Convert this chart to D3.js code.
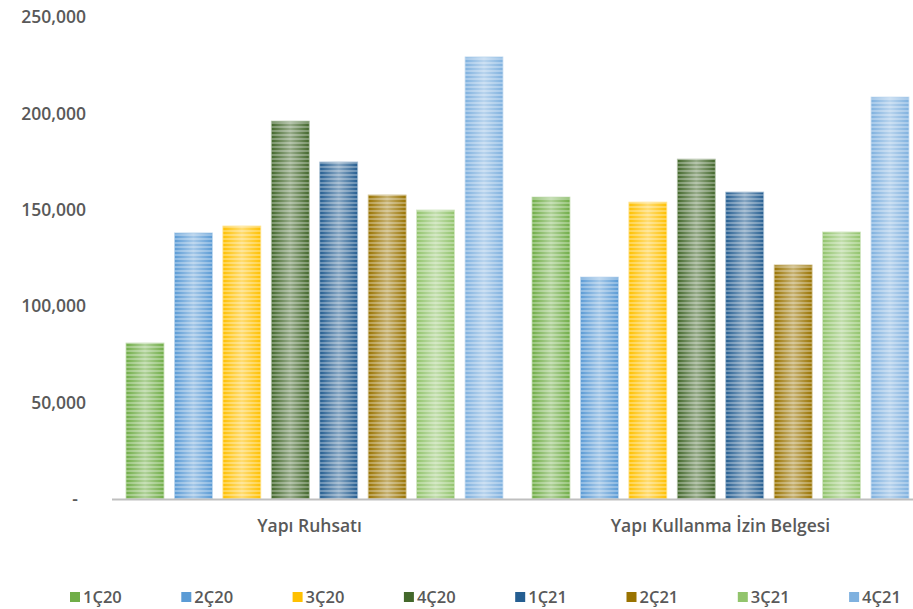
<!DOCTYPE html>
<meta charset="UTF-8">
<style>
  body { margin: 0; background-color: #fff; }
  svg { display: block; }
  svg text { fill: #595959; font-weight: 600; font-family: "Open Sans", sans-serif; }
</style>
<svg xmlns="http://www.w3.org/2000/svg"></svg>
<script src="https://d3js.org/d3.v7.min.js"></script>
<script>
  const WIDTH = 913, HEIGHT = 609;

  const categories = ['Yapı Ruhsatı', 'Yapı Kullanma İzin Belgesi'];
  const seriesNames = ['1Ç20', '2Ç20', '3Ç20', '4Ç20', '1Ç21', '2Ç21', '3Ç21', '4Ç21'];
  const seriesColors = ['#70ad47', '#5b9bd5', '#ffc000', '#43682b',
                        '#255e91', '#997300', '#92c46c', '#7fb1df'];
  // one array per category, one value per series
  const ruhsatValues = [80900, 138000, 141600, 196000, 174800, 157700, 149900, 229300];
  const iskanValues = [156600, 115100, 154000, 176300, 159200, 121400, 138500, 208500];
  const yTicks = [0, 50000, 100000, 150000, 200000, 250000];

  const rows = [ruhsatValues, iskanValues];

  const svg = d3.select('svg')
    .attr('width', WIDTH)
    .attr('height', HEIGHT);

  const x0 = d3.scaleBand()
    .domain(categories)
    .range([111.5, 923.5]);

  const x1 = d3.scaleBand()
    .domain(seriesNames)
    .range([14.5, x0.bandwidth() - 14.5])
    .paddingInner(0.216);

  const y = d3.scaleLinear()
    .domain([0, 250000])
    .range([499, 17]);

  // striped fills
  const defs = svg.append('defs');
  seriesColors.forEach((color, i) => {
    const p = defs.append('pattern')
      .attr('id', `stripe-${i}`)
      .attr('patternUnits', 'userSpaceOnUse')
      .attr('width', 8)
      .attr('height', 4);
    p.append('rect').attr('width', 8).attr('height', 4).attr('fill', color);
    p.append('rect').attr('y', 2).attr('width', 8).attr('height', 2)
      .attr('fill', d3.interpolateRgb(color, '#fff')(0.3));
  });
  const sheen = defs.append('linearGradient')
    .attr('id', 'sheen')
    .attr('x1', 0).attr('x2', 1).attr('y1', 0).attr('y2', 0);
  [[0, 0], [0.5, 0.45], [1, 0]].forEach(([o, a]) => {
    sheen.append('stop').attr('offset', o)
      .attr('stop-color', '#fff').attr('stop-opacity', a);
  });

  // y axis labels
  svg.append('g')
    .attr('transform', 'translate(86,0)')
    .call(d3.axisLeft(y).tickValues(yTicks).tickSize(0).tickPadding(0)
      .tickFormat(d => d === 0 ? '-' : d3.format(',')(d)))
    .attr('font-family', null)
    .call(g => g.select('.domain').remove())
    .call(g => g.selectAll('text')
      .attr('font-size', 17.5)
      .attr('dx', d => d === 0 ? -8 : 0));

  // bars
  const groups = svg.append('g').selectAll('g')
    .data(categories)
    .join('g')
      .attr('transform', d => `translate(${x0(d)},0)`);

  const bars = groups.selectAll('g')
    .data((c, ci) => rows[ci].map((v, i) => ({ name: seriesNames[i], i, v })))
    .join('g');

  bars.append('rect')
    .attr('x', d => x1(d.name))
    .attr('y', d => y(d.v))
    .attr('width', x1.bandwidth())
    .attr('height', d => y(0) - y(d.v))
    .attr('fill', d => `url(#stripe-${d.i})`)
    .attr('stroke', d => d3.interpolateRgb(seriesColors[d.i], '#fff')(0.6))
    .attr('stroke-width', 0.8);

  bars.append('rect')
    .attr('x', d => x1(d.name))
    .attr('y', d => y(d.v))
    .attr('width', x1.bandwidth())
    .attr('height', d => y(0) - y(d.v))
    .attr('fill', 'url(#sheen)');

  // category axis
  svg.append('g')
    .attr('transform', `translate(0,${y(0)})`)
    .call(d3.axisBottom(x0).tickSize(0).tickPadding(21))
    .attr('font-family', null)
    .call(g => g.select('.domain').attr('stroke', '#bfbfbf').attr('stroke-width', 2))
    .call(g => g.selectAll('text')
      .attr('font-size', 17.5)
      .attr('dx', (d, i) => i === 0 ? -5 : 0));

  // legend
  const legend = svg.append('g')
    .selectAll('g')
    .data(seriesNames)
    .join('g')
      .attr('transform', (d, i) => `translate(${70 + i * 111.3},592)`);

  legend.append('rect')
    .attr('width', 10)
    .attr('height', 10)
    .attr('fill', (d, i) => seriesColors[i]);

  legend.append('text')
    .attr('x', 13)
    .attr('y', 5)
    .attr('dy', '0.35em')
    .attr('font-size', 16.5)
    .text(d => d);
</script>
